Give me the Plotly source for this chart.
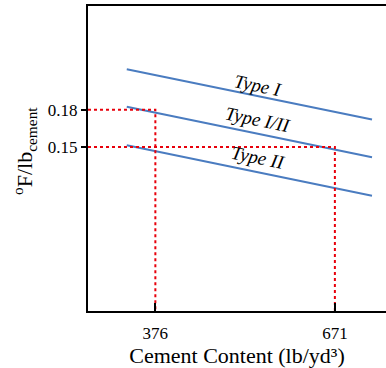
import math
import plotly.graph_objects as go

# Temperature rise per unit cement for each cement type (linear trends)
cement_types = ["Type I", "Type I/II", "Type II"]
line_x = [329, 732]
line_y_type1 = [0.2125, 0.172]
line_y_type12 = [0.1824, 0.1417]
line_y_type2 = [0.1514, 0.1108]

# Reference readings (cement content -> temperature rise)
ref_x = [376, 671]
ref_y = [0.18, 0.15]

x_ticks = [376, 671]
y_ticks = [0.15, 0.18]
y_tick_text = ["0.15", "0.18"]

X_RANGE = [265.3, 755]
Y_RANGE = [0.018, 0.2634]

SERIF = "Liberation Serif, Times New Roman, serif"
BLUE = "#4A7CC0"
RED = "#E8000B"

fig = go.Figure()

for ys in (line_y_type1, line_y_type12, line_y_type2):
    fig.add_trace(go.Scatter(x=line_x, y=ys, mode="lines",
                             line=dict(color=BLUE, width=2), hoverinfo="skip"))

# Dotted guide lines: from the y-axis across to the reading, then down to the x-axis
for rx, ry in zip(ref_x, ref_y):
    fig.add_trace(go.Scatter(x=[X_RANGE[0], rx, rx], y=[ry, ry, Y_RANGE[0]],
                             mode="lines",
                             line=dict(color=RED, width=2, dash="dot"),
                             hoverinfo="skip"))

# Labels sitting just above each trend line, rotated to the line slope
plot_w, plot_h = 298, 305
label_x = 545
label_offsets = (0.0085, 0.0115, 0.0115)
for name, ys, dy in zip(cement_types, (line_y_type1, line_y_type12, line_y_type2),
                        label_offsets):
    slope = (ys[1] - ys[0]) / (line_x[1] - line_x[0])
    px_dx = plot_w / (X_RANGE[1] - X_RANGE[0])
    px_dy = plot_h / (Y_RANGE[1] - Y_RANGE[0])
    angle = math.degrees(math.atan(-slope * px_dy / px_dx))
    yv = ys[0] + slope * (label_x - line_x[0]) + dy
    fig.add_annotation(x=label_x, y=yv, text=f"<i>{name}</i>", showarrow=False,
                       textangle=angle,
                       font=dict(family=SERIF, size=19, color="black"))

fig.add_annotation(xref="paper", yref="paper", x=-0.211, y=0.525,
                   xanchor="center", yanchor="middle",
                   text="<sup>o</sup>F/lb<sub>cement</sub>", showarrow=False,
                   textangle=-90, font=dict(family=SERIF, size=22, color="black"))

fig.update_layout(
    width=386, height=368,
    margin=dict(l=88, r=0, t=6, b=57),
    paper_bgcolor="white", plot_bgcolor="white",
    showlegend=False,
    xaxis=dict(range=X_RANGE, showgrid=False, zeroline=False,
               showline=True, linecolor="black", linewidth=2, mirror=True,
               tickvals=x_ticks, ticks="inside", ticklen=8, tickwidth=2,
               tickcolor="black", ticklabelstandoff=6,
               tickfont=dict(family=SERIF, size=17, color="black"),
               title=dict(text="Cement Content (lb/yd³)", standoff=2,
                          font=dict(family=SERIF, size=22, color="black"))),
    yaxis=dict(range=Y_RANGE, showgrid=False, zeroline=False,
               showline=True, linecolor="black", linewidth=2,
               tickvals=y_ticks, ticktext=y_tick_text, ticks="outside",
               ticklen=5, tickwidth=2, tickcolor="black",
               tickfont=dict(family=SERIF, size=17, color="black")),
)

fig.write_html("out.html")
